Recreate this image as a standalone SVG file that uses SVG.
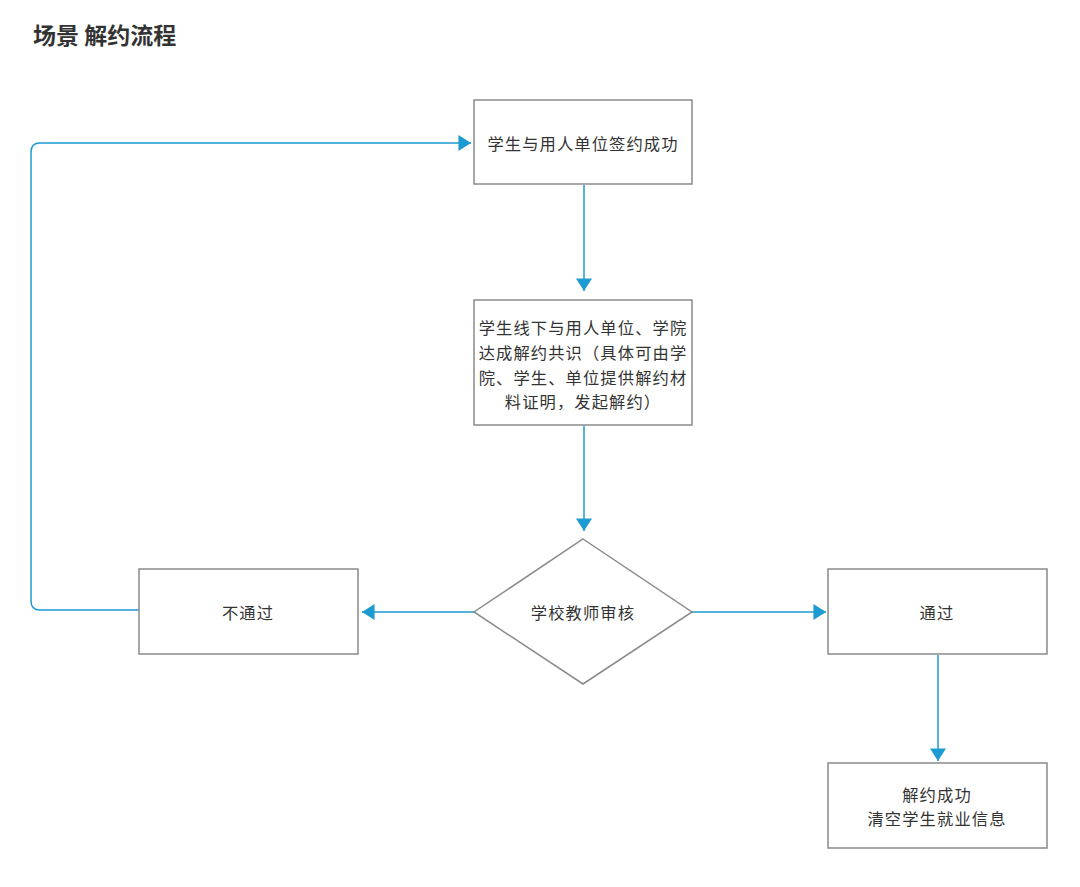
<svg xmlns="http://www.w3.org/2000/svg" width="1080" height="887" viewBox="0 0 1080 887">
<defs>
<style>
.node{fill:#fff;stroke:#8a8a8a;stroke-width:1.5}
.t{font-family:"Noto Sans CJK SC","Noto Sans",sans-serif;font-size:16.3px;letter-spacing:1.1px;fill:#333;text-anchor:middle;dominant-baseline:central}
.c{fill:none;stroke:#1b9bd1;stroke-width:1.5}
.title{font-family:"Noto Sans CJK SC","Noto Sans",sans-serif;font-size:23px;font-weight:bold;fill:#333}
</style>
<marker id="ah" markerUnits="userSpaceOnUse" markerWidth="14" markerHeight="16" viewBox="0 0 11 14" refX="11" refY="7" orient="auto">
<path d="M0,0 L11,7 L0,14 Z" fill="#1b9bd1"/>
</marker>
</defs>
<rect width="1080" height="887" fill="#fff"/>
<text class="title" x="33" y="44">场景 解约流程</text>
<g id="connectors">
<path class="c" d="M584,185 V291" marker-end="url(#ah)"/>
<path class="c" d="M584,426 V531" marker-end="url(#ah)"/>
<path class="c" d="M474,612 H362" marker-end="url(#ah)"/>
<path class="c" d="M692,612 H826" marker-end="url(#ah)"/>
<path class="c" d="M938,655 V761" marker-end="url(#ah)"/>
<path class="c" d="M139,610 H40 Q31,610 31,601 V152 Q31,143 40,143 H471" marker-end="url(#ah)"/>
</g>
<g id="n1">
<rect class="node" x="474" y="100" width="218" height="84"/>
<text class="t" x="583" y="143">学生与用人单位签约成功</text>
</g>
<g id="n2">
<rect class="node" x="474" y="300" width="218" height="125"/>
<text class="t" x="583" y="327">学生线下与用人单位、学院</text>
<text class="t" x="583" y="352">达成解约共识（具体可由学</text>
<text class="t" x="583" y="377">院、学生、单位提供解约材</text>
<text class="t" x="583" y="401">料证明，发起解约）</text>
</g>
<g id="n3">
<polygon class="node" points="583,539 692,612 583,684 474,612"/>
<text class="t" x="583" y="612">学校教师审核</text>
</g>
<g id="n4">
<rect class="node" x="139" y="569" width="219" height="85"/>
<text class="t" x="248" y="612">不通过</text>
</g>
<g id="n5">
<rect class="node" x="828" y="569" width="219" height="85"/>
<text class="t" x="937" y="612">通过</text>
</g>
<g id="n6">
<rect class="node" x="828" y="763" width="219" height="85"/>
<text class="t" x="937" y="794">解约成功</text>
<text class="t" x="937" y="818">清空学生就业信息</text>
</g>
</svg>
